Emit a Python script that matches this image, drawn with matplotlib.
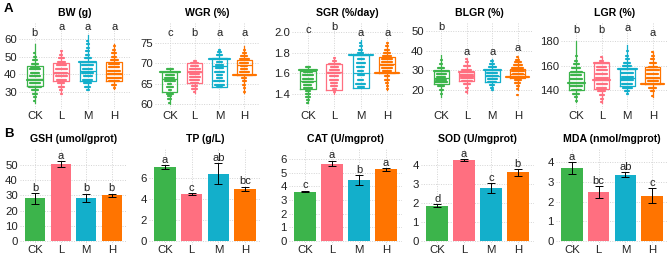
import matplotlib
matplotlib.use('Agg')
import matplotlib.pyplot as plt

plt.rcParams['font.family'] = ['Liberation Sans', 'DejaVu Sans']

groups = ['CK', 'L', 'M', 'H']
colors = ['#3CB44B', '#FF6F80', '#13AFCB', '#FF7400']

# ---- panel A: growth traits (box stats + dot stacks) ----
a_titles = ['BW (g)', 'WGR (%)', 'SGR (%/day)', 'BLGR (%)', 'LGR (%)']
a_ticks = [[30, 40, 50, 60], [60, 65, 70, 75], [1.4, 1.6, 1.8, 2.0],
           [20, 30, 40, 50], [140, 160, 180]]
a_ylim = [(20.4, 69.6), (58.8, 80.2), (1.255, 2.097), (10.3, 54.6), (124.5, 195.5)]

# box stats per group: (q1, median, q3, whisker low, whisker high)
bw_box = [(33.4, 37.2, 44.7, 24, 57), (36.2, 41, 46.6, 29, 53),
          (36.2, 41.9, 47.2, 31.5, 62), (36.2, 40, 47, 31.5, 57)]
wgr_box = [(63.1, 66.2, 68.0, 60, 68.7), (65.2, 68, 70.1, 62.7, 70.9),
           (64.3, 69.3, 71.3, 64.3, 73.4), (67.2, 69.7, 70.9, 62.7, 74.2)]
sgr_box = [(1.45, 1.53, 1.62, 1.31, 1.66), (1.44, 1.61, 1.69, 1.40, 1.75),
           (1.46, 1.60, 1.78, 1.46, 1.92), (1.60, 1.69, 1.76, 1.44, 1.89)]
blgr_box = [(23.2, 26.3, 29.5, 16.5, 37.6), (24.4, 27, 29.1, 18.5, 36),
            (24.1, 27, 30, 20, 36), (26.3, 28.3, 30.9, 20, 37)]
lgr_box = [(140.2, 145.6, 155.1, 130.6, 179.6), (141, 148.3, 162.4, 129.2, 167.3),
           (142.9, 149.6, 157, 137, 176.9), (144.7, 150.2, 158.6, 134.7, 171.4)]

# dot stacks: bin values and counts per group
bw_vals = [[57, 54, 52, 50, 48, 46, 44, 43, 41, 39, 37, 35, 33, 31, 29, 27, 25, 23],
           [53, 51, 49, 47, 45, 43, 41, 39, 37, 35, 33, 31, 29],
           [63, 61, 59, 57, 55, 53, 51, 49, 47, 45, 43, 41, 39, 37, 35, 33, 31],
           [58, 56, 54, 52, 50, 48, 46, 44, 42, 40, 38, 36, 34, 32]]
bw_cnts = [[1, 1, 2, 3, 4, 6, 8, 10, 8, 9, 15, 10, 11, 6, 4, 3, 2, 1],
           [2, 3, 5, 7, 9, 10, 11, 10, 9, 6, 5, 3, 2],
           [1, 1, 2, 3, 3, 4, 4, 6, 16, 10, 9, 10, 8, 9, 7, 5, 3],
           [1, 2, 3, 4, 5, 7, 9, 10, 11, 12, 13, 9, 5, 2]]
wgr_vals = [[68.7, 68.0, 67.2, 66.5, 65.8, 65.0, 64.2, 63.5, 62.6, 62.0, 61.2, 60.2],
            [70.6, 70.0, 69.3, 68.6, 68.0, 67.3, 66.6, 66.0, 65.2, 64.5, 63.7, 62.9],
            [73.3, 72.7, 72.0, 71.2, 70.4, 69.6, 68.8, 68.0, 67.2, 66.4, 65.6, 64.8, 64.3],
            [74.0, 73.2, 72.5, 71.8, 71.0, 70.2, 69.4, 68.6, 67.8, 67.2, 66.4, 65.6, 64.8,
             64.0, 63.0, 59.9]]
wgr_cnts = [[6, 20, 8, 9, 10, 4, 6, 3, 6, 4, 4, 2],
            [3, 7, 8, 10, 12, 9, 10, 9, 8, 6, 5, 2],
            [2, 4, 5, 20, 6, 8, 7, 9, 5, 6, 10, 9, 6],
            [1, 2, 4, 6, 9, 8, 6, 7, 9, 22, 5, 4, 3, 2, 2, 1]]
sgr_vals = [[1.66, 1.63, 1.61, 1.58, 1.55, 1.52, 1.49, 1.46, 1.43, 1.40, 1.37, 1.34, 1.31],
            [1.75, 1.72, 1.69, 1.66, 1.63, 1.60, 1.57, 1.54, 1.51, 1.48, 1.45, 1.42],
            [1.92, 1.89, 1.86, 1.83, 1.80, 1.78, 1.74, 1.70, 1.66, 1.62, 1.58, 1.54, 1.50, 1.47],
            [1.89, 1.86, 1.83, 1.80, 1.77, 1.74, 1.71, 1.68, 1.65, 1.62, 1.60, 1.57, 1.54,
             1.51, 1.48, 1.45, 1.29]]
sgr_cnts = [[5, 16, 8, 9, 10, 10, 7, 8, 5, 4, 4, 3, 2],
            [2, 4, 10, 7, 9, 11, 8, 8, 6, 6, 4, 2],
            [1, 2, 3, 4, 5, 22, 6, 8, 7, 5, 6, 5, 9, 6],
            [2, 3, 4, 6, 8, 9, 10, 11, 9, 8, 22, 5, 4, 3, 2, 2, 1]]
blgr_vals = [[37.5, 35, 33, 31, 29.5, 28, 26.5, 25, 24, 22, 20, 18, 16.5, 12.6],
             [36, 34, 32, 30, 29, 27.5, 26, 24.5, 23, 21, 19],
             [36, 34.5, 33, 31.5, 30, 28.5, 27, 25.5, 24, 22.5, 21, 20, 16],
             [47.8, 37, 35.5, 34, 32.5, 31, 29.5, 28, 26.5, 25, 23.5, 22, 20.5, 17.2, 16]]
blgr_cnts = [[1, 2, 3, 6, 14, 9, 8, 10, 12, 6, 4, 2, 1, 1],
             [2, 3, 6, 9, 14, 13, 12, 10, 6, 3, 2],
             [1, 3, 5, 7, 16, 10, 11, 9, 8, 5, 3, 2, 1],
             [1, 2, 4, 6, 8, 11, 12, 10, 22, 6, 5, 3, 2, 2, 1]]
lgr_vals = [[179.6, 173, 168, 164, 161, 158, 155, 152, 149, 146, 143, 140, 137, 134, 131],
            [167, 164, 162, 159, 156, 153, 150, 148, 145, 142, 139, 136, 133, 130],
            [177, 172, 168, 165, 162, 160, 157, 154, 151, 148, 145, 142, 139, 137],
            [177.4, 171, 168, 165, 162, 159, 156, 153, 150, 147, 145, 142, 139, 135]]
lgr_cnts = [[1, 1, 2, 3, 5, 8, 11, 10, 12, 16, 12, 9, 6, 3, 2],
            [2, 4, 14, 9, 10, 11, 12, 16, 10, 9, 7, 5, 3, 2],
            [1, 2, 3, 4, 6, 8, 18, 12, 11, 12, 10, 9, 5, 2],
            [1, 2, 3, 4, 6, 8, 12, 11, 12, 10, 22, 7, 4, 2]]

# significance letters and their heights
a_letters = [['b', 'a', 'a', 'a'], ['c', 'b', 'a', 'a'], ['c', 'b', 'a', 'a'],
             ['b', 'a', 'a', 'a'], ['b', 'b', 'a', 'a']]
a_letter_y = [[63.4, 66.8, 66.8, 66.8], [77.5, 77.5, 77.5, 77.5],
              [2.02, 2.05, 1.99, 1.99], [52, 39.2, 39.2, 41.2], [189, 189, 190.6, 186.5]]

a_box = [bw_box, wgr_box, sgr_box, blgr_box, lgr_box]
a_vals = [bw_vals, wgr_vals, sgr_vals, blgr_vals, lgr_vals]
a_cnts = [bw_cnts, wgr_cnts, sgr_cnts, blgr_cnts, lgr_cnts]

# ---- panel B: biochemical indices (mean, se) ----
b_titles = ['GSH (umol/gprot)', 'TP (g/L)', 'CAT (U/mgprot)', 'SOD (U/mgprot)',
            'MDA (nmol/mgprot)']
gsh_mean = [27.9, 50.6, 28.4, 30.0]
gsh_err = [3.3, 1.8, 2.5, 1.0]
tp_mean = [7.0, 4.47, 6.35, 4.94]
tp_err = [0.15, 0.08, 1.0, 0.2]
cat_mean = [3.62, 5.68, 4.48, 5.25]
cat_err = [0.07, 0.2, 0.35, 0.1]
sod_mean = [1.86, 4.25, 2.78, 3.61]
sod_err = [0.08, 0.04, 0.25, 0.17]
mda_mean = [3.72, 2.5, 3.38, 2.3]
mda_err = [0.3, 0.3, 0.12, 0.37]
b_letters = [['b', 'a', 'b', 'b'], ['a', 'c', 'ab', 'bc'], ['c', 'a', 'b', 'a'],
             ['d', 'a', 'c', 'b'], ['a', 'bc', 'ab', 'c']]
b_ticks = [[0, 10, 20, 30, 40, 50], [0, 2, 4, 6], [0, 1, 2, 3, 4, 5, 6],
           [0, 1, 2, 3, 4], [0, 1, 2, 3, 4]]
b_ylim = [(-2.6, 61), (-0.375, 8.8), (-0.31, 6.82), (-0.22, 4.89), (-0.22, 4.74)]
b_mean = [gsh_mean, tp_mean, cat_mean, sod_mean, mda_mean]
b_err = [gsh_err, tp_err, cat_err, sod_err, mda_err]

W, H = 669, 257
fig = plt.figure(figsize=(W / 100, H / 100), dpi=100)

top_x = [(19, 130), (155, 259), (292, 403), (426, 533), (561, 668)]
bot_x = [(20, 127), (149, 261), (289, 402), (421, 534), (556, 668)]
x = [1, 2, 3, 4]


def make_ax(x0, x1, top, bottom):
    ax = fig.add_axes([x0 / W, 1 - bottom / H, (x1 - x0) / W, (bottom - top) / H])
    for s in ax.spines.values():
        s.set_visible(False)
    ax.grid(True, color='#d4d4d4', linestyle=(0, (1, 1.5)), linewidth=0.7)
    ax.set_axisbelow(True)
    return ax


def finish_ax(ax, ylim, ticks):
    ax.set_xlim(0.4, 4.6)
    ax.set_xticks(x)
    ax.set_xticklabels(groups)
    ax.set_ylim(*ylim)
    ax.set_yticks(ticks)
    ax.tick_params(length=0, labelsize=8.2, colors='#222222', pad=1.5)


for i in range(5):
    ax = make_ax(top_x[i][0], top_x[i][1], 22, 109)
    stats = []
    for b in a_box[i]:
        stats.append(dict(q1=b[0], med=b[1], q3=b[2], whislo=b[3], whishi=b[4], fliers=[]))
    bp = ax.bxp(stats, positions=x, widths=0.6, showcaps=False, patch_artist=False)
    for j in range(4):
        for key in ['boxes', 'medians']:
            bp[key][j].set_color(colors[j])
            bp[key][j].set_linewidth(0.9)
        for w in bp['whiskers'][2 * j:2 * j + 2]:
            w.set_color(colors[j])
            w.set_linewidth(0.9)
        for v, n in zip(a_vals[i][j], a_cnts[i][j]):
            hw = (n - 1) * 0.022
            ax.hlines(v, x[j] - hw, x[j] + hw, colors=colors[j], linewidth=1.6,
                      capstyle='round', zorder=3)
        ax.text(x[j], a_letter_y[i][j], a_letters[i][j], ha='center', va='center',
                fontsize=8, color='#222222')
    finish_ax(ax, a_ylim[i], a_ticks[i])
    ax.set_title(a_titles[i], fontsize=7.6, fontweight='bold', pad=4)

for i in range(5):
    ax = make_ax(bot_x[i][0], bot_x[i][1], 148, 245)
    ax.bar(x, b_mean[i], width=0.8, color=colors, zorder=2)
    ax.errorbar(x, b_mean[i], yerr=b_err[i], fmt='none', ecolor='black',
                elinewidth=0.7, capsize=2.6, capthick=0.7, zorder=3)
    for j in range(4):
        ax.annotate(b_letters[i][j], (x[j], b_mean[i][j] + b_err[i][j]),
                    xytext=(0, 0.3), textcoords='offset points', ha='center',
                    va='bottom', fontsize=8, color='#222222')
    finish_ax(ax, b_ylim[i], b_ticks[i])
    ax.tick_params(axis='x', pad=0.3)
    ax.set_title(b_titles[i], fontsize=7.6, fontweight='bold', pad=4)

fig.text(4 / W, 1 - 9 / H, 'A', fontsize=9.5, fontweight='bold', va='center')
fig.text(4 / W, 1 - 134 / H, 'B', fontsize=9.5, fontweight='bold', va='center')

fig.savefig('out.png', dpi=100)
